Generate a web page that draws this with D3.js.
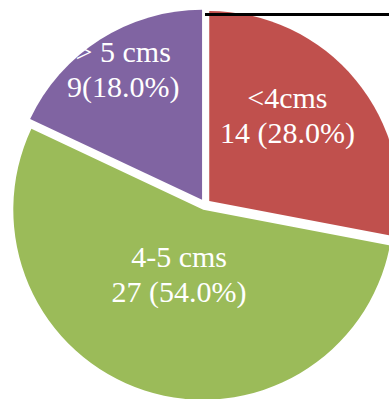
<!DOCTYPE html>
<html>
<head>
<meta charset="utf-8">
<script src="https://cdn.jsdelivr.net/npm/d3@7"></script>
<style>
  html, body { margin: 0; padding: 0; background: #ffffff; }
  svg { display: block; }
</style>
</head>
<body>
<svg id="chart" width="389" height="399"></svg>
<script>
// ---- data ----
const categories = ["<4cms", "4-5 cms", "> 5 cms"];
const counts = [14, 27, 9];
const valueLabels = ["14 (28.0%)", "27 (54.0%)", "9(18.0%)"];
const colors = ["#C0504D", "#9BBB59", "#8064A2"];

// ---- layout ----
const W = 389, H = 399;
const cx = 205, cy = 204.5, R = 190, explode = 5.5;
// label placement: [distance from slice centre, angular shift in degrees]
const labelPlace = [[115.5, -7.8], [68.9, 2.6], [152.6, 1.3]];

const svg = d3.select("#chart");
const pie = d3.pie().sort(null).value(d => d)(counts);
const arc = d3.arc().innerRadius(0).outerRadius(R);

const g = svg.append("g").attr("transform", `translate(${cx},${cy})`);

const slices = g.selectAll("g.slice").data(pie).join("g")
  .attr("class", "slice")
  .attr("transform", d => {
    const m = (d.startAngle + d.endAngle) / 2;
    return `translate(${explode * Math.sin(m)},${-explode * Math.cos(m)})`;
  });

slices.append("path")
  .attr("d", arc)
  .attr("fill", (d, i) => colors[i]);

slices.each(function(d, i) {
  const m = (d.startAngle + d.endAngle) / 2 + labelPlace[i][1] * Math.PI / 180;
  const r = labelPlace[i][0];
  const x = r * Math.sin(m), y = -r * Math.cos(m);
  const t = d3.select(this).append("text")
    .attr("text-anchor", "middle")
    .attr("fill", "#ffffff")
    .style("font-family", "'Liberation Serif', 'Times New Roman', serif")
    .style("font-size", "30px");
  t.append("tspan").attr("x", x).attr("y", y - 7.5).text(categories[i]);
  t.append("tspan").attr("x", x).attr("y", y + 27.5).text(valueLabels[i]);
});

// black rule at the top right
svg.append("line")
  .attr("x1", 205).attr("x2", W)
  .attr("y1", 14.5).attr("y2", 14.5)
  .attr("stroke", "#000000")
  .attr("stroke-width", 3);
</script>
</body>
</html>
